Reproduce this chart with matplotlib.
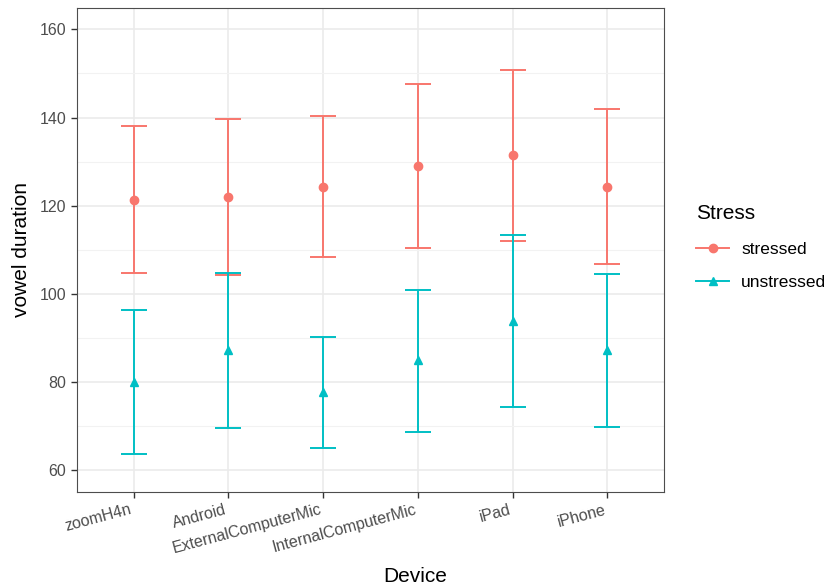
import numpy as np
import matplotlib.pyplot as plt
from matplotlib.lines import Line2D

plt.rcParams['font.family'] = ['Liberation Sans', 'DejaVu Sans']

devices = ['zoomH4n', 'Android', 'ExternalComputerMic', 'InternalComputerMic', 'iPad', 'iPhone']

# stressed: mean, lower, upper
stressed_mean = [121.4, 121.9, 124.2, 129.0, 131.4, 124.2]
stressed_low = [104.7, 104.3, 108.3, 110.4, 112.1, 106.8]
stressed_high = [138.1, 139.6, 140.3, 147.7, 150.7, 141.9]

# unstressed: mean, lower, upper
unstressed_mean = [80.1, 87.3, 77.7, 84.9, 93.9, 87.2]
unstressed_low = [63.7, 69.6, 65.1, 68.6, 74.3, 69.8]
unstressed_high = [96.3, 104.7, 90.2, 100.9, 113.4, 104.5]

col_s = '#F8766D'
col_u = '#00BFC4'

fig = plt.figure(figsize=(8.3, 5.86), dpi=100)
ax = fig.add_axes([0.0924, 0.161, 0.708, 0.825])

x = np.arange(1, len(devices) + 1)

def draw(mean, low, high, color, marker):
    mean = np.array(mean)
    yerr = [mean - np.array(low), np.array(high) - mean]
    ax.errorbar(x, mean, yerr=yerr, fmt='none', ecolor=color, elinewidth=1.4,
                capsize=9.5, capthick=1.4, zorder=3)
    ax.plot(x, mean, linestyle='none', marker=marker, color=color,
            markersize=6, zorder=4)

draw(stressed_mean, stressed_low, stressed_high, col_s, 'o')
draw(unstressed_mean, unstressed_low, unstressed_high, col_u, '^')

ax.set_xlim(0.4, 6.6)
ax.set_ylim(55.15, 164.8)
ax.set_yticks([60, 80, 100, 120, 140, 160])
ax.set_yticks([70, 90, 110, 130, 150], minor=True)
ax.set_xticks(x)
ax.set_xticklabels(devices, rotation=15, ha='right', va='top')

ax.grid(which='major', color='#EBEBEB', linewidth=1.2, zorder=0)
ax.grid(which='minor', axis='y', color='#F2F2F2', linewidth=0.8, zorder=0)
ax.set_axisbelow(True)

for s in ax.spines.values():
    s.set_color('#4D4D4D')
    s.set_linewidth(0.8)

ax.tick_params(axis='both', which='major', colors='#333333', labelcolor='#4D4D4D',
               labelsize=11.5, length=4, width=1)
ax.tick_params(axis='y', which='minor', length=0)

ax.set_xlabel('Device', fontsize=15, va='baseline')
ax.xaxis.set_label_coords(0.5, 0.006, transform=fig.transFigure)
ax.set_ylabel('vowel duration', fontsize=15, labelpad=6)

handles = [
    Line2D([], [], color=col_s, marker='o', markersize=6, linewidth=1.4),
    Line2D([], [], color=col_u, marker='^', markersize=6, linewidth=1.4),
]
leg = fig.legend(handles, ['stressed', 'unstressed'], title='Stress',
                 loc='upper left', bbox_to_anchor=(0.82, 0.678), frameon=False,
                 fontsize=12.5, title_fontsize=15, handlelength=1.9,
                 labelspacing=1.05, handletextpad=0.7)
leg._legend_box.align = 'left'

fig.savefig('out.png', dpi=100)
